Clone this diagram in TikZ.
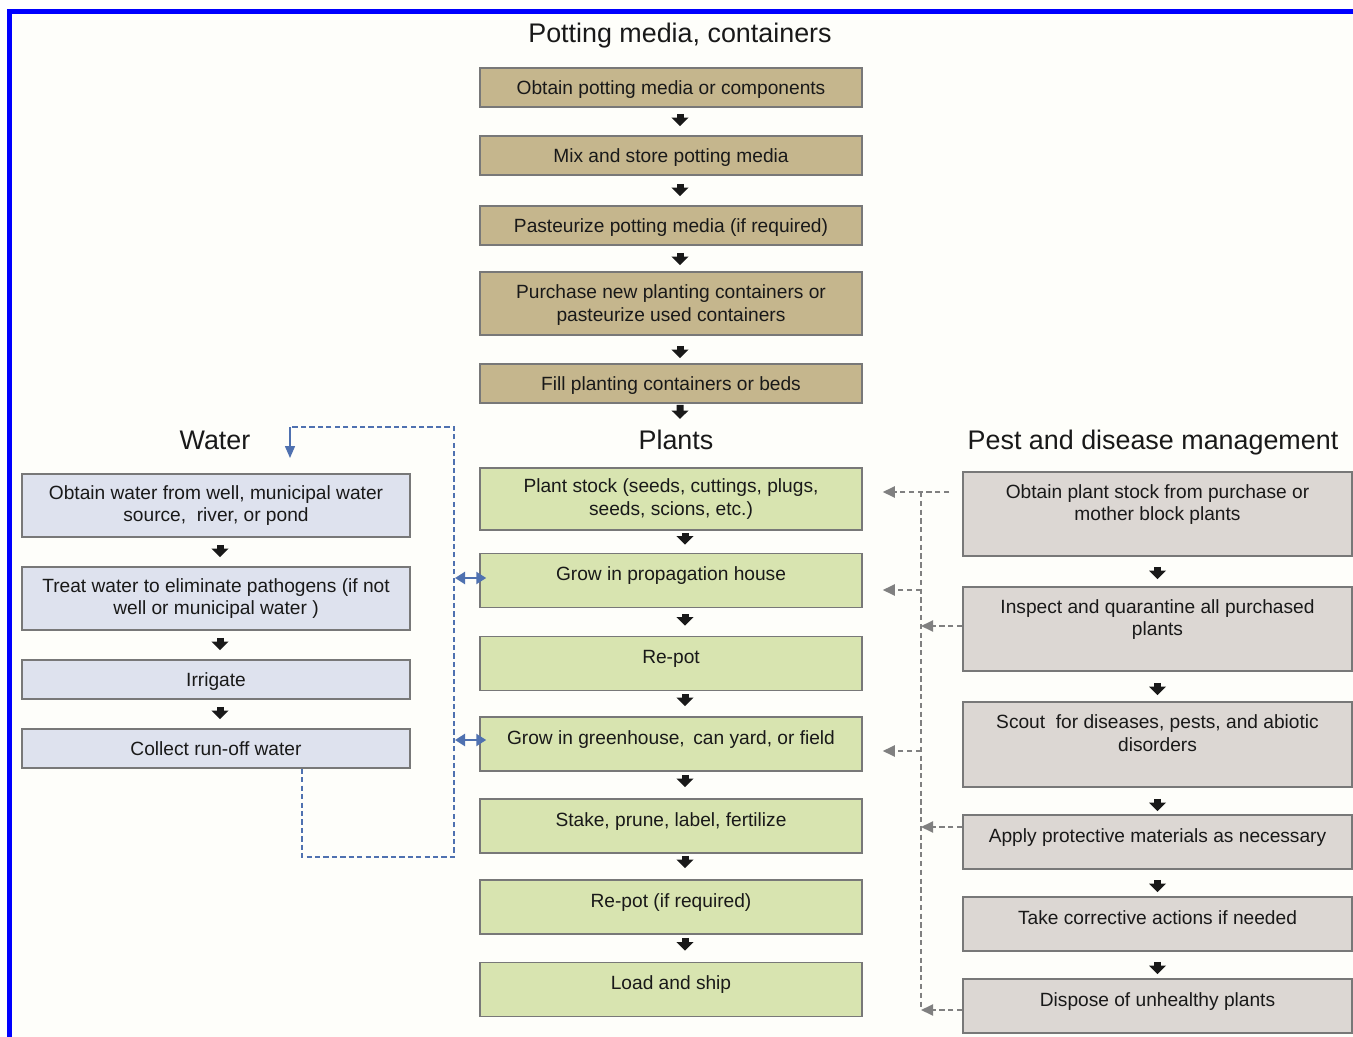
\documentclass[tikz,border=0pt]{standalone}
\usepackage{fontspec}
\setmainfont{Liberation Sans}
\usetikzlibrary{arrows.meta}
\definecolor{potfill}{RGB}{197,182,141}
\definecolor{plantfill}{RGB}{216,228,176}
\definecolor{waterfill}{RGB}{222,226,238}
\definecolor{pestfill}{RGB}{220,215,211}
\definecolor{boxline}{RGB}{120,120,120}
\definecolor{loopblue}{RGB}{79,113,176}
\definecolor{linkgray}{RGB}{128,128,128}
\definecolor{paper}{RGB}{254,254,250}
\begin{document}
\begin{tikzpicture}[x=0.02cm, y=-0.02cm]
	\tikzstyle{every node}=[font=\fontsize{10.9}{13}\selectfont, text=black!90]
	\tikzstyle{box}=[draw=boxline, line width=0.9pt, inner sep=2pt]
	\tikzstyle{potbox}=[box, fill=potfill, minimum width=7.64cm, minimum height=0.78cm]
	\tikzstyle{plantbox}=[box, fill=plantfill, minimum width=7.64cm, minimum height=1.08cm]
	\tikzstyle{waterbox}=[box, fill=waterfill, minimum width=7.76cm, minimum height=0.78cm]
	\tikzstyle{pestbox}=[box, fill=pestfill, minimum width=7.78cm, minimum height=1.08cm]
	\tikzstyle{toptext}=[text height=9pt, text depth=9pt]
	\tikzstyle{midtext}=[text height=8pt, text depth=0pt]
	\tikzstyle{heading}=[font=\fontsize{15.3}{18}\selectfont, text height=11pt, text depth=0pt]
	\tikzstyle{flowarrow}=[black!90, line width=0.14cm, -{Triangle[width=0.33cm,length=0.17cm]}]
	\tikzstyle{wline}=[loopblue, line width=0.85pt, dash pattern=on 3pt off 1.8pt]
	\tikzstyle{wlink}=[loopblue, line width=1.3pt, {Triangle[width=0.24cm,length=0.2cm]}-{Triangle[width=0.24cm,length=0.2cm]}]
	\tikzstyle{pline}=[linkgray, line width=1.1pt, dash pattern=on 3pt off 2pt]
	\tikzstyle{ptip}=[-{Triangle[width=0.22cm,length=0.24cm]}]
	
	\useasboundingbox (0,0) rectangle (1353,1037);
	\fill[white] (0,0) rectangle (1353,1037);
	\fill[paper] (12,14) rectangle (1353,1037);
	\draw[blue, line width=0.1cm] (9.5,1037) -- (9.5,11.5) -- (1353,11.5);
	
	\node[heading] (pottitle) at (680,33) {Potting media, containers};
	\node[potbox, midtext] (pot1) at (671,87.5) {Obtain potting media or components};
	\node[potbox, midtext] (pot2) at (671,155.5) {Mix and store potting media};
	\node[potbox, midtext] (pot3) at (671,225.5) {Pasteurize potting media (if required)};
	\node[potbox, minimum height=1.26cm, align=center] (pot4) at (671,303.5) {\rule{0pt}{10pt}Purchase new planting containers or\\pasteurize used containers};
	\node[potbox, midtext] (pot5) at (671,383.5) {Fill planting containers or beds};
	
	\node[heading] (watertitle) at (215,440) {Water};
	\node[heading] (planttitle) at (676,440) {Plants};
	\node[heading] (pesttitle) at (1153,440) {Pest and disease management};
	
	\node[plantbox, minimum height=1.24cm, align=center] (stock) at (671,499) {Plant stock (seeds, cuttings, plugs,\\seeds, scions, etc.)};
	\node[plantbox, toptext] (prop) at (671,580.5) {Grow in propagation house};
	\node[plantbox, toptext] (repot) at (671,663.5) {Re-pot};
	\node[plantbox, toptext] (field) at (671,744) {Grow in greenhouse,\, can yard, or field};
	\node[plantbox, toptext] (stake) at (671,826) {Stake, prune, label, fertilize};
	\node[plantbox, toptext] (repot2) at (671,907) {Re-pot (if required)};
	\node[plantbox, toptext] (ship) at (671,989.5) {Load and ship};
	
	\node[waterbox, minimum height=1.26cm, align=center] (source) at (216,505.5) {Obtain water from well, municipal water\\source,~ river, or pond};
	\node[waterbox, minimum height=1.26cm, align=center] (treat) at (216,598.5) {Treat water to eliminate pathogens (if not\\well or municipal water )};
	\node[waterbox, midtext] (irrigate) at (216,679.5) {Irrigate};
	\node[waterbox, midtext] (runoff) at (216,748.5) {Collect run-off water};
	
	\node[pestbox, minimum height=1.68cm, align=center] (buy) at (1157.5,514) {Obtain plant stock from purchase or\\mother block plants\\\mbox{}};
	\node[pestbox, minimum height=1.68cm, align=center] (inspect) at (1157.5,629) {Inspect and quarantine all purchased\\plants\\\mbox{}};
	\node[pestbox, minimum height=1.7cm, align=center] (scout) at (1157.5,744.5) {Scout~ for diseases, pests, and abiotic\\disorders\\\mbox{}};
	\node[pestbox, toptext] (protect) at (1157.5,842) {Apply protective materials as necessary};
	\node[pestbox, toptext] (correct) at (1157.5,924) {Take corrective actions if needed};
	\node[pestbox, toptext] (dispose) at (1157.5,1006) {Dispose of unhealthy plants};
	
	\draw[flowarrow, shorten <=0.12cm, shorten >=0.18cm] ([xshift=0.18cm]pot1.south) -- ([xshift=0.18cm]pot2.north);
	\draw[flowarrow, shorten <=0.16cm, shorten >=0.18cm] ([xshift=0.18cm]pot2.south) -- ([xshift=0.18cm]pot3.north);
	\draw[flowarrow, shorten <=0.14cm, shorten >=0.12cm] ([xshift=0.18cm]pot3.south) -- ([xshift=0.18cm]pot4.north);
	\draw[flowarrow, shorten <=0.2cm, shorten >=0.1cm] ([xshift=0.18cm]pot4.south) -- ([xshift=0.18cm]pot5.north);
	\coordinate (plantsin) at (680,419);
	\draw[flowarrow, shorten <=0.02cm] ([xshift=0.18cm]pot5.south) -- (plantsin);
	
	\draw[flowarrow, shorten <=0.04cm, shorten >=0.16cm] ([xshift=0.28cm]stock.south) -- ([xshift=0.28cm]prop.north);
	\draw[flowarrow, shorten <=0.12cm, shorten >=0.2cm] ([xshift=0.28cm]prop.south) -- ([xshift=0.28cm]repot.north);
	\draw[flowarrow, shorten <=0.06cm, shorten >=0.2cm] ([xshift=0.28cm]repot.south) -- ([xshift=0.28cm]field.north);
	\draw[flowarrow, shorten <=0.06cm, shorten >=0.22cm] ([xshift=0.28cm]field.south) -- ([xshift=0.28cm]stake.north);
	\draw[flowarrow, shorten <=0.04cm, shorten >=0.22cm] ([xshift=0.28cm]stake.south) -- ([xshift=0.28cm]repot2.north);
	\draw[flowarrow, shorten <=0.06cm, shorten >=0.22cm] ([xshift=0.28cm]repot2.south) -- ([xshift=0.28cm]ship.north);
	
	\draw[flowarrow, shorten <=0.14cm, shorten >=0.18cm] ([xshift=0.08cm]source.south) -- ([xshift=0.08cm]treat.north);
	\draw[flowarrow, shorten <=0.14cm, shorten >=0.18cm] ([xshift=0.08cm]treat.south) -- ([xshift=0.08cm]irrigate.north);
	\draw[flowarrow, shorten <=0.14cm, shorten >=0.18cm] ([xshift=0.08cm]irrigate.south) -- ([xshift=0.08cm]runoff.north);
	
	\draw[flowarrow, shorten <=0.2cm, shorten >=0.14cm] (buy.south) -- (inspect.north);
	\draw[flowarrow, shorten <=0.22cm, shorten >=0.12cm] (inspect.south) -- (scout.north);
	\draw[flowarrow, shorten <=0.22cm, shorten >=0.06cm] (scout.south) -- (protect.north);
	\draw[flowarrow, shorten <=0.2cm, shorten >=0.08cm] (protect.south) -- (correct.north);
	\draw[flowarrow, shorten <=0.2cm, shorten >=0.08cm] (correct.south) -- (dispose.north);
	
	% water loop back to the source
	\coordinate (wb1) at (302,857);
	\coordinate (wb2) at (454,857);
	\coordinate (wb3) at (454,427);
	\coordinate (wb4) at (290,427);
	\coordinate (wb5) at (290,458);
	\draw[wline] (wb1 |- runoff.south) -- (wb1) -- (wb2) -- (wb3) -- (wb4);
	\draw[loopblue, line width=0.85pt, -{Triangle[width=0.2cm,length=0.24cm]}] (wb4) -- (wb5);
	\coordinate (wp1) at (455,578);
	\coordinate (wp2) at (455,740);
	\draw[wlink, shorten >=-0.14cm] (wp1) -- (wp1 -| prop.west);
	\draw[wlink, shorten >=-0.14cm] (wp2) -- (wp2 -| field.west);
	
	% pest management links
	\coordinate (ptop) at (921,492);
	\coordinate (pbot) at (921,1010);
	\coordinate (pp1) at (921,590);
	\coordinate (pp2) at (921,751);
	\coordinate (pi1) at (921,626);
	\coordinate (pi2) at (921,827);
	\draw[pline] (ptop) -- (pbot);
	\draw[pline, ptip, shorten <=0.26cm, shorten >=0.4cm] (buy.west |- ptop) -- (stock.east |- ptop);
	\draw[pline, ptip, shorten >=0.4cm] (pp1) -- (pp1 -| prop.east);
	\draw[pline, ptip, shorten >=0.4cm] (pp2) -- (pp2 -| field.east);
	\draw[pline, ptip] (pi1 -| inspect.west) -- (pi1);
	\draw[pline, ptip] (pi2 -| protect.west) -- (pi2);
	\draw[pline, ptip] (pbot -| dispose.west) -- (pbot);
	
\end{tikzpicture}
\end{document}
